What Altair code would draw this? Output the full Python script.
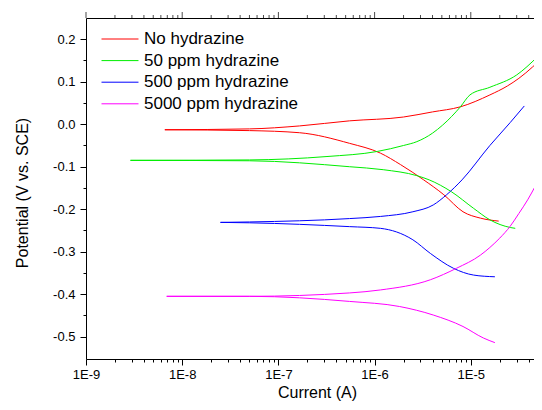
import altair as alt
import pandas as pd

series_names = ["No hydrazine", "50 ppm hydrazine", "500 ppm hydrazine", "5000 ppm hydrazine"]
series_colors = ["#ff0000", "#00ee00", "#0000ff", "#ff00ff"]

# No hydrazine
red_start_i, red_start_e = 6.6e-9, -0.013
red_up_i = [5.0e-8, 1.66e-7, 5.5e-7, 2.0e-6, 4.0e-6, 7.8e-6, 1.58e-5, 2.4e-5, 3.16e-5, 4.4e-5, 5.6e-5]
red_up_e = [-0.011, -0.004, 0.008, 0.017, 0.029, 0.041, 0.069, 0.09, 0.108, 0.135, 0.158]
red_lo_i = [5.0e-8, 1.66e-7, 5.5e-7, 1.15e-6, 1.86e-6, 3.24e-6, 5.25e-6, 8.3e-6, 1.26e-5, 1.95e-5]
red_lo_e = [-0.015, -0.02, -0.045, -0.068, -0.095, -0.131, -0.166, -0.206, -0.221, -0.228]

# 50 ppm hydrazine
grn_start_i, grn_start_e = 2.9e-9, -0.085
grn_up_i = [5.0e-8, 3.2e-7, 1.07e-6, 2.0e-6, 2.75e-6, 4.0e-6, 5.1e-6, 7.8e-6, 9.8e-6, 1.58e-5, 3.0e-5, 4.9e-5]
grn_up_e = [-0.084, -0.076, -0.064, -0.05, -0.041, -0.021, -0.002, 0.041, 0.069, 0.087, 0.116, 0.158]
grn_lo_i = [5.0e-8, 5.5e-7, 1.23e-6, 2.75e-6, 3.7e-6, 6.3e-6, 1.07e-5, 1.58e-5, 2.57e-5, 2.9e-5]
grn_lo_e = [-0.086, -0.1, -0.107, -0.121, -0.131, -0.159, -0.198, -0.225, -0.243, -0.245]

# 500 ppm hydrazine
blu_start_i, blu_start_e = 2.5e-8, -0.231
blu_up_i = [5.0e-8, 5.5e-7, 1.15e-6, 2.5e-6, 4.07e-6, 5.6e-6, 8.1e-6, 1.58e-5, 2.57e-5, 3.6e-5]
blu_up_e = [-0.23, -0.222, -0.217, -0.206, -0.19, -0.166, -0.131, -0.05, 0.004, 0.043]
blu_lo_i = [5.0e-8, 5.5e-7, 1.15e-6, 2.5e-6, 3.8e-6, 6.6e-6, 1.07e-5, 1.78e-5]
blu_lo_e = [-0.232, -0.241, -0.245, -0.272, -0.304, -0.339, -0.355, -0.359]

# 5000 ppm hydrazine
mag_start_i, mag_start_e = 6.9e-9, -0.405
mag_up_i = [5.0e-8, 5.5e-7, 1.15e-6, 3.8e-6, 7.1e-6, 1.26e-5, 1.58e-5, 2.0e-5, 2.57e-5, 3.16e-5, 3.9e-5, 4.7e-5, 5.6e-5]
mag_up_e = [-0.405, -0.397, -0.39, -0.366, -0.339, -0.308, -0.29, -0.268, -0.24, -0.21, -0.178, -0.145, -0.112]
mag_lo_i = [5.0e-8, 5.5e-7, 1.82e-6, 4.07e-6, 8.3e-6, 1.35e-5, 1.78e-5]
mag_lo_e = [-0.405, -0.417, -0.429, -0.449, -0.476, -0.503, -0.514]

X_MAX = 4.54e-5
x_major = [1e-9, 1e-8, 1e-7, 1e-6, 1e-5]
x_minor = [m * d for d in [1e-9, 1e-8, 1e-7, 1e-6, 1e-5] for m in [2, 3, 4, 5, 6, 7, 8, 9] if m * d <= X_MAX]
y_major = [-0.5, -0.4, -0.3, -0.2, -0.1, 0.0, 0.1, 0.2]
y_minor = [-0.45, -0.35, -0.25, -0.15, -0.05, 0.05, 0.15]

curves = [
    (series_names[0], red_start_i, red_start_e, red_up_i, red_up_e, red_lo_i, red_lo_e),
    (series_names[1], grn_start_i, grn_start_e, grn_up_i, grn_up_e, grn_lo_i, grn_lo_e),
    (series_names[2], blu_start_i, blu_start_e, blu_up_i, blu_up_e, blu_lo_i, blu_lo_e),
    (series_names[3], mag_start_i, mag_start_e, mag_up_i, mag_up_e, mag_lo_i, mag_lo_e),
]
rows = []
for name, si, se, ui, ue, li, le in curves:
    for branch, xs, ys in (("anodic", ui, ue), ("cathodic", li, le)):
        rows.append({"series": name, "branch": name + branch, "current": si, "potential": se})
        for a, b in zip(xs, ys):
            rows.append({"series": name, "branch": name + branch, "current": a, "potential": b})
df = pd.DataFrame(rows)

x_all = sorted(x_major + x_minor)
y_all = sorted(y_major + y_minor)
xmaj_df = pd.DataFrame({"v": x_major})
xmin_df = pd.DataFrame({"v": x_minor})

FONT = "Liberation Sans"
W, H = 448, 341
xscale = alt.Scale(type="log", domain=[1e-9, X_MAX], nice=False)
yscale = alt.Scale(domain=[-0.5525, 0.25], nice=False, zero=False)
X_IS_MAJOR = "abs(log(datum.value) / LN10 - round(log(datum.value) / LN10)) < 0.001"
Y_IS_MAJOR = "abs(datum.value * 10 - round(datum.value * 10)) < 0.001"
xlab = X_IS_MAJOR + " ? '1E' + round(log(datum.value) / LN10) : ''"
ylab = Y_IS_MAJOR + " ? replace(format(datum.value, '.1f'), '\u2212', '-') : ''"

lines = alt.Chart(df).mark_line(strokeWidth=1, interpolate="monotone", clip=True).encode(
    x=alt.X("current:Q", scale=xscale, axis=alt.Axis(
        orient="bottom", values=x_all, tickCount=200, labelExpr=xlab,
        tickSize={"condition": {"test": X_IS_MAJOR, "value": 6}, "value": 3},
        labelPadding=3, labelOverlap=False,
        labelFlush=False, labelFontSize=13, title="Current (A)", titleFontSize=16,
        titleX=231, titleY=38, titleBaseline="alphabetic", titleAlign="center")),
    y=alt.Y("potential:Q", scale=yscale, axis=alt.Axis(
        orient="left", values=y_all, tickCount=200, labelExpr=ylab,
        tickSize={"condition": {"test": Y_IS_MAJOR, "value": 6}, "value": 3},
        labelPadding=5, labelFontSize=13, labelFlush=False, labelOverlap=False,
        title="Potential (V vs. SCE)", titleFontSize=16, titleX=-59, titleY=174.5,
        titleBaseline="alphabetic", titleAlign="center")),
    color=alt.Color("series:N", scale=alt.Scale(domain=series_names, range=series_colors),
                    legend=alt.Legend(orient="none", legendX=25.5, legendY=12.5, title=None,
                                      symbolType="M-3,0H3", symbolSize=152, symbolStrokeWidth=1,
                                      labelFontSize=17, labelOffset=15.5, rowPadding=3.6, padding=0,
                                      labelColor="black", labelFont=FONT)),
    detail="branch:N",
)

top_major = alt.Chart(xmaj_df).mark_tick(fill="black", thickness=1, size=6, orient="vertical").encode(
    x=alt.X("v:Q", scale=xscale, axis=alt.Axis(
        orient="top", values=x_major, ticks=False, labels=False, title="")),
    y=alt.value(-3),
)
top_minor = alt.Chart(xmin_df).mark_tick(fill="black", thickness=1, size=3, orient="vertical").encode(
    x=alt.X("v:Q", scale=xscale, axis=None),
    y=alt.value(-1.5),
)

chart = alt.layer(lines, top_major, top_minor).resolve_axis(
    x="independent", y="independent"
).properties(
    width=W, height=H,
    autosize=alt.AutoSizeParams(type="none"),
    padding={"left": 78, "top": 10, "right": 0, "bottom": 42},
    background="white",
).configure(font=FONT).configure_view(stroke="transparent").configure_axis(
    grid=False, domainColor="black", tickColor="black", labelColor="black", titleColor="black",
    labelFont=FONT, titleFont=FONT, titleFontWeight="normal", domainWidth=1, tickWidth=1,
)

chart.save("out.html", embed_options={"renderer": "svg", "actions": False})
